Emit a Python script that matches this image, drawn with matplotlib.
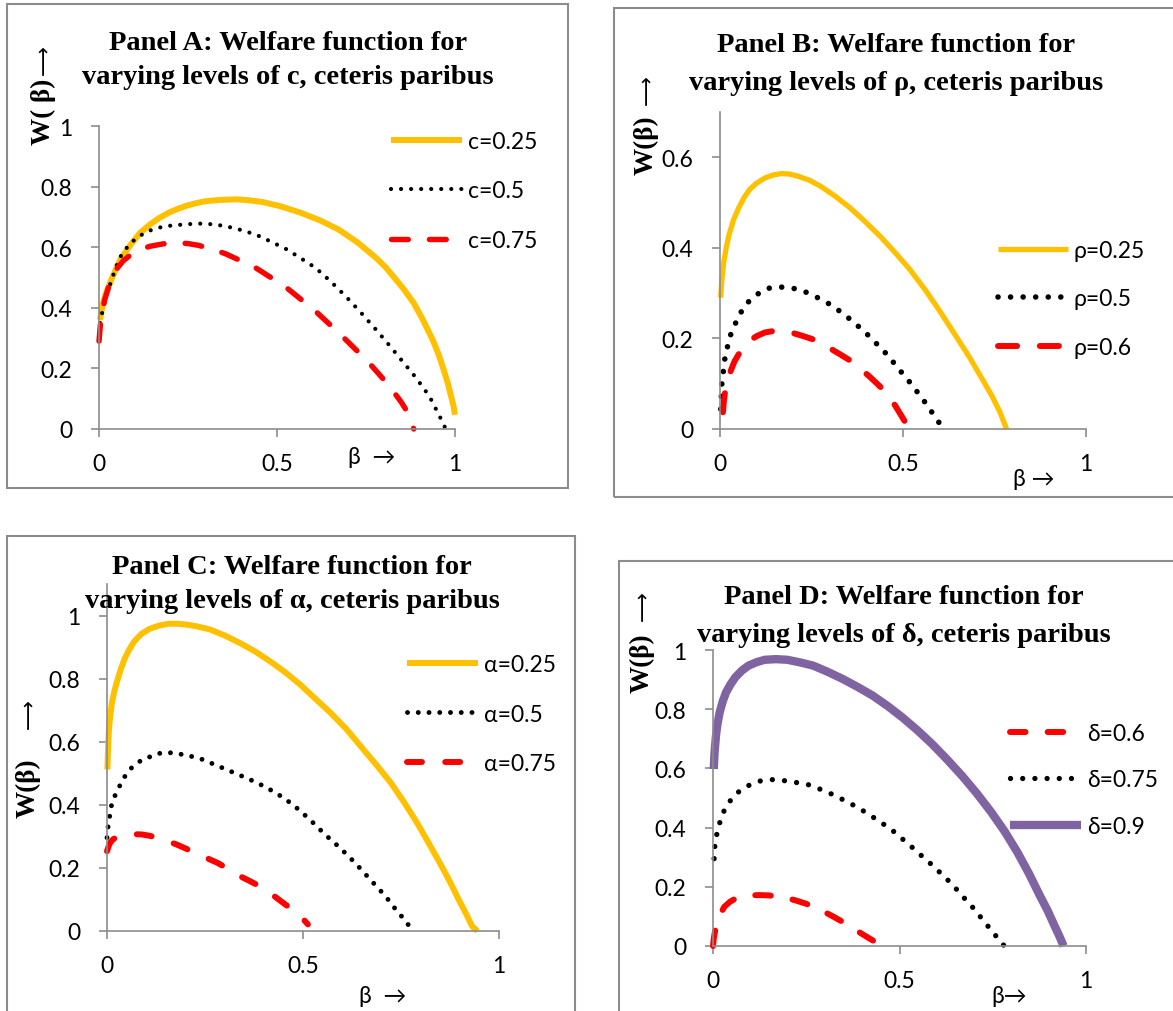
import matplotlib
matplotlib.use("Agg")
import matplotlib.pyplot as plt
from matplotlib.patches import Rectangle

W_PX, H_PX = 1173, 1012

# ---- Panel A: varying c ----
beta_a1 = [0.003, 0.01, 0.02, 0.037, 0.06, 0.09, 0.115, 0.143, 0.17, 0.196, 0.222,
           0.249, 0.275, 0.30, 0.34, 0.386, 0.42, 0.46, 0.51, 0.566, 0.62, 0.672,
           0.725, 0.778, 0.805, 0.83, 0.857, 0.884, 0.91, 0.937, 0.955, 0.968,
           0.98, 0.989, 0.996, 1.0]
w_a1 = [0.36, 0.41, 0.45, 0.50, 0.56, 0.61, 0.647, 0.675, 0.697, 0.714, 0.727,
        0.738, 0.746, 0.752, 0.756, 0.758, 0.755, 0.749, 0.735, 0.714, 0.689, 0.659,
        0.617, 0.565, 0.534, 0.499, 0.46, 0.416, 0.36, 0.295, 0.243, 0.196,
        0.15, 0.108, 0.075, 0.047]
beta_a2 = [0.003, 0.01, 0.02, 0.032, 0.045, 0.058, 0.078, 0.10, 0.125, 0.153, 0.185,
           0.217, 0.25, 0.28, 0.315, 0.354, 0.395, 0.44, 0.48, 0.524, 0.565, 0.608,
           0.65, 0.693, 0.735, 0.778, 0.815, 0.852, 0.885, 0.915, 0.935, 0.952,
           0.964, 0.974]
w_a2 = [0.35, 0.39, 0.44, 0.48, 0.525, 0.565, 0.598, 0.625, 0.645, 0.66, 0.669,
        0.673, 0.676, 0.678, 0.676, 0.67, 0.658, 0.642, 0.62, 0.595, 0.565, 0.532,
        0.488, 0.438, 0.385, 0.328, 0.277, 0.224, 0.177, 0.13, 0.093, 0.053,
        0.025, 0.0]
beta_a3 = [0.0, 0.005, 0.016, 0.03, 0.048, 0.068, 0.09, 0.115, 0.143, 0.18, 0.217,
           0.25, 0.28, 0.315, 0.354, 0.395, 0.44, 0.48, 0.524, 0.565, 0.608, 0.65,
           0.693, 0.73, 0.767, 0.8, 0.83, 0.85, 0.862, 0.874, 0.884]
w_a3 = [0.29, 0.36, 0.427, 0.48, 0.526, 0.555, 0.576, 0.592, 0.603, 0.611, 0.615,
        0.612, 0.606, 0.594, 0.579, 0.557, 0.532, 0.502, 0.469, 0.43, 0.389, 0.343,
        0.295, 0.252, 0.207, 0.163, 0.119, 0.087, 0.064, 0.035, 0.0]
labels_a = ["c=0.25", "c=0.5", "c=0.75"]

# ---- Panel B: varying rho ----
beta_b1 = [0.002, 0.005, 0.01, 0.017, 0.025, 0.037, 0.051, 0.065, 0.081, 0.1, 0.122,
           0.145, 0.168, 0.19, 0.214, 0.245, 0.275, 0.315, 0.356, 0.395, 0.437,
           0.478, 0.519, 0.56, 0.6, 0.64, 0.682, 0.713, 0.743, 0.765, 0.783]
w_b1 = [0.29, 0.33, 0.367, 0.40, 0.43, 0.462, 0.488, 0.51, 0.529, 0.543, 0.554,
        0.561, 0.564, 0.563, 0.558, 0.549, 0.536, 0.514, 0.488, 0.459, 0.426,
        0.39, 0.352, 0.308, 0.261, 0.211, 0.158, 0.115, 0.073, 0.037, 0.0]
beta_b2 = [0.002, 0.005, 0.013, 0.02, 0.028, 0.041, 0.055, 0.074, 0.099, 0.127, 0.158,
           0.188, 0.219, 0.249, 0.277, 0.303, 0.331, 0.356, 0.382, 0.405, 0.427,
           0.451, 0.473, 0.493, 0.514, 0.534, 0.554, 0.573, 0.592, 0.61]
w_b2 = [0.044, 0.099, 0.154, 0.18, 0.206, 0.231, 0.255, 0.278, 0.296, 0.31, 0.314,
        0.312, 0.308, 0.297, 0.286, 0.274, 0.258, 0.242, 0.224, 0.207, 0.189,
        0.169, 0.148, 0.128, 0.108, 0.087, 0.066, 0.044, 0.022, 0.0]
beta_b3 = [0.008, 0.011, 0.015, 0.022, 0.031, 0.04, 0.051, 0.065, 0.081, 0.1, 0.122,
           0.143, 0.163, 0.183, 0.203, 0.228, 0.254, 0.28, 0.305, 0.33, 0.356, 0.38,
           0.407, 0.432, 0.458, 0.48, 0.504]
w_b3 = [0.037, 0.065, 0.088, 0.112, 0.132, 0.15, 0.165, 0.181, 0.195, 0.205, 0.213,
        0.216, 0.217, 0.215, 0.211, 0.205, 0.198, 0.188, 0.176, 0.164, 0.151, 0.135,
        0.117, 0.098, 0.077, 0.05, 0.018]
labels_b = ["ρ=0.25", "ρ=0.5", "ρ=0.6"]

# ---- Panel C: varying alpha ----
beta_c1 = [0.001, 0.003, 0.005, 0.008, 0.0125, 0.019, 0.027, 0.036, 0.046, 0.057,
           0.07, 0.088, 0.109, 0.132, 0.157, 0.18, 0.205, 0.232, 0.2625, 0.3, 0.339,
           0.378, 0.416, 0.455, 0.493, 0.53, 0.57, 0.61, 0.647, 0.685, 0.724, 0.758,
           0.791, 0.82, 0.849, 0.874, 0.897, 0.915, 0.931, 0.945]
w_c1 = [0.512, 0.59, 0.639, 0.68, 0.723, 0.762, 0.797, 0.833, 0.866, 0.893,
        0.919, 0.942, 0.958, 0.968, 0.974, 0.974, 0.971, 0.965, 0.956, 0.937, 0.913,
        0.886, 0.855, 0.82, 0.781, 0.738, 0.692, 0.641, 0.586, 0.53, 0.47, 0.408,
        0.343, 0.28, 0.216, 0.158, 0.1, 0.057, 0.016, 0.0]
beta_c2 = [0.0, 0.003, 0.011, 0.02, 0.032, 0.046, 0.0625, 0.085, 0.109, 0.133,
           0.1615, 0.19, 0.214, 0.243, 0.287, 0.335, 0.383, 0.431, 0.474, 0.517, 0.556,
           0.594, 0.633, 0.671, 0.71, 0.743, 0.76, 0.777]
w_c2 = [0.296, 0.333, 0.396, 0.428, 0.459, 0.491, 0.517, 0.539, 0.552, 0.563,
        0.565, 0.56, 0.554, 0.544, 0.521, 0.496, 0.47, 0.438, 0.401, 0.354, 0.306,
        0.264, 0.216, 0.164, 0.111, 0.058, 0.035, 0.005]
beta_c3 = [0.0, 0.004, 0.008, 0.015, 0.022, 0.035, 0.051, 0.07, 0.089, 0.108, 0.128,
           0.152, 0.176, 0.2, 0.224, 0.253, 0.282, 0.31, 0.339, 0.368, 0.397, 0.426,
           0.455, 0.475, 0.493, 0.5125]
w_c3 = [0.253, 0.268, 0.28, 0.29, 0.296, 0.302, 0.306, 0.307, 0.306, 0.302, 0.296,
        0.286, 0.275, 0.262, 0.248, 0.232, 0.216, 0.196, 0.174, 0.156, 0.137, 0.111,
        0.084, 0.066, 0.048, 0.021]
labels_c = ["α=0.25", "α=0.5", "α=0.75"]

# ---- Panel D: varying delta ----
beta_d1 = [0.0, 0.002, 0.005, 0.01, 0.015, 0.022, 0.03, 0.045, 0.06, 0.08, 0.1,
           0.125, 0.149, 0.174, 0.199, 0.224, 0.249, 0.274, 0.299, 0.323, 0.348,
           0.373, 0.398, 0.428, 0.457]
w_d1 = [0.0, 0.025, 0.047, 0.072, 0.092, 0.113, 0.132, 0.149, 0.16, 0.167, 0.171,
        0.172, 0.171, 0.167, 0.162, 0.153, 0.143, 0.13, 0.115, 0.099, 0.081,
        0.062, 0.042, 0.019, 0.0]
beta_d2 = [0.003, 0.005, 0.01, 0.018, 0.03, 0.047, 0.068, 0.095, 0.124, 0.159,
           0.189, 0.219, 0.249, 0.279, 0.306, 0.333, 0.36, 0.388, 0.414, 0.441, 0.468,
           0.493, 0.517, 0.542, 0.565, 0.589, 0.612, 0.635, 0.657, 0.679, 0.701,
           0.721, 0.741, 0.761, 0.781]
w_d2 = [0.295, 0.34, 0.376, 0.416, 0.458, 0.492, 0.52, 0.542, 0.557, 0.562,
        0.559, 0.553, 0.548, 0.534, 0.52, 0.505, 0.486, 0.469, 0.447, 0.426, 0.402,
        0.379, 0.351, 0.325, 0.298, 0.272, 0.244, 0.216, 0.186, 0.154, 0.124,
        0.092, 0.061, 0.03, 0.0]
beta_d3 = [0.002, 0.004, 0.008, 0.012, 0.018, 0.026, 0.035, 0.047, 0.06, 0.077,
           0.095, 0.117, 0.139, 0.169, 0.199, 0.234, 0.269, 0.308, 0.348, 0.388,
           0.428, 0.468, 0.507, 0.547, 0.587, 0.627, 0.667, 0.707, 0.746, 0.782,
           0.816, 0.847, 0.876, 0.897, 0.915, 0.928, 0.94]
w_d3 = [0.598, 0.65, 0.711, 0.75, 0.79, 0.826, 0.857, 0.884, 0.908, 0.93,
        0.947, 0.959, 0.967, 0.969, 0.967, 0.958, 0.947, 0.926, 0.902, 0.875,
        0.846, 0.811, 0.773, 0.73, 0.683, 0.631, 0.576, 0.516, 0.452, 0.387,
        0.317, 0.245, 0.171, 0.12, 0.07, 0.035, 0.0]
labels_d = ["δ=0.6", "δ=0.75", "δ=0.9"]

x_ticks = [0, 0.5, 1]
x_ticklabels = ["0", "0.5", "1"]
y_ticks_1 = [0, 0.2, 0.4, 0.6, 0.8, 1]
y_ticklabels_1 = ["0", "0.2", "0.4", "0.6", "0.8", "1"]
y_ticks_b = [0, 0.2, 0.4, 0.6]
y_ticklabels_b = ["0", "0.2", "0.4", "0.6"]

GOLD = "#FFC000"
RED = "#FF0000"
PURPLE = "#8064A2"
GREY = "#8C8C8C"
SERIF = ["Liberation Serif", "DejaVu Serif"]
SANS = ["Lato", "DejaVu Sans"]
FS = 16.5

fig = plt.figure(figsize=(W_PX / 100, H_PX / 100), dpi=100)


def fx(x):
    return x / W_PX


def fy(y):
    return 1 - y / H_PX


def panel_box(x0, y0, x1, y1):
    fig.add_artist(Rectangle((fx(x0), fy(y1)), (x1 - x0) / W_PX, (y1 - y0) / H_PX,
                             transform=fig.transFigure, fill=False,
                             edgecolor=GREY, lw=1.5, zorder=0))


def make_axes(x0, x1, y_top, y_bot, ymax, yticks, yticklabels):
    ax = fig.add_axes([fx(x0), fy(y_bot), (x1 - x0) / W_PX, (y_bot - y_top) / H_PX])
    ax.set_xlim(0, 1)
    ax.set_ylim(0, ymax)
    ax.patch.set_alpha(0)
    for s in ["top", "right"]:
        ax.spines[s].set_visible(False)
    for s in ["left", "bottom"]:
        ax.spines[s].set_color(GREY)
        ax.spines[s].set_linewidth(1.2)
    ax.set_xticks(x_ticks)
    ax.set_xticklabels(x_ticklabels)
    ax.set_yticks(yticks)
    ax.set_yticklabels(yticklabels)
    ax.tick_params(direction="out", length=6, width=1.2, color=GREY,
                   labelsize=FS, labelcolor="black")
    ax.tick_params(axis="y", pad=13)
    ax.tick_params(axis="x", pad=11)
    for lab in ax.get_xticklabels() + ax.get_yticklabels():
        lab.set_family(SANS)
    return ax


def titles(xc, y1, y2, lines):
    fig.text(fx(xc), fy(y1), "Panel " + lines[0], ha="center", va="center",
             family=SERIF, weight="bold", fontsize=20.5)
    fig.text(fx(xc), fy(y2), lines[1], ha="center", va="center",
             family=SERIF, weight="bold", fontsize=20.5)


def ylabel(x, y_w, y_arrow, txt):
    # W(beta) in bold serif, the long thin arrow as its own text above it
    fig.text(fx(x), fy(y_w), txt, rotation=90, ha="center", va="center",
             family=SERIF, weight="bold", fontsize=19.5)
    fig.text(fx(x + 1), fy(y_arrow), "⟶", rotation=90, ha="center", va="center",
             family=["DejaVu Sans"], fontsize=15)


def legend(ax, x, y, spacing, hl=3.1):
    ax.legend(loc="center left", bbox_to_anchor=(fx(x), fy(y)),
              bbox_transform=fig.transFigure, frameon=False, borderpad=0,
              borderaxespad=0, handlelength=hl, handletextpad=0.25,
              labelspacing=spacing, prop={"family": SANS, "size": FS})


# ---------- Panel A ----------
panel_box(7, 5, 568, 489)
ax = make_axes(99, 455, 127, 430, 1.0, y_ticks_1, y_ticklabels_1)
ax.plot(beta_a1, w_a1, color=GOLD, lw=4.3, solid_capstyle="butt", clip_on=False,
        label=labels_a[0])
ax.plot(beta_a2, w_a2, color="black", lw=3.0, linestyle=(0, (0.01, 2.4)),
        dash_capstyle="round", clip_on=False, label=labels_a[1])
ax.plot(beta_a3, w_a3, color=RED, lw=3.9, linestyle=(0, (3.1, 3.9)),
        dash_capstyle="round", clip_on=False, label=labels_a[2])
legend(ax, 391, 192, 1.23)
titles(288, 43, 77, ("A: Welfare function for",
                     "varying levels of c, ceteris paribus"))
ylabel(43, 112, 60, "W( β)")
fig.text(fx(372), fy(458), "β  →", ha="center", va="center", family=SANS,
         fontsize=FS)

# ---------- Panel B ----------
panel_box(614, 9, 1185, 498)
ax = make_axes(720, 1086, 113, 430, 0.7, y_ticks_b, y_ticklabels_b)
ax.plot(beta_b1, w_b1, color=GOLD, lw=3.8, solid_capstyle="butt", clip_on=False,
        label=labels_b[0])
ax.plot(beta_b2, w_b2, color="black", lw=4.0, linestyle=(0, (0.01, 2.25)),
        dash_capstyle="round", clip_on=False, label=labels_b[1])
ax.plot(beta_b3, w_b3, color=RED, lw=4.3, linestyle=(0, (3.2, 3.8)),
        dash_capstyle="round", clip_on=False, label=labels_b[2])
legend(ax, 998, 300, 1.2, hl=3.05)
titles(896, 45, 83, ("B: Welfare function for",
                     "varying levels of ρ, ceteris paribus"))
ylabel(646, 145, 90, "W(β)")
fig.text(fx(1034), fy(480), "β →", ha="center", va="center", family=SANS,
         fontsize=FS)

# ---------- Panel C ----------
panel_box(7, 537, 575, 1025)
ax = make_axes(107, 499, 585, 932, 1.1, y_ticks_1, y_ticklabels_1)
ax.plot(beta_c1, w_c1, color=GOLD, lw=4.3, solid_capstyle="butt", clip_on=False,
        label=labels_c[0])
ax.plot(beta_c2, w_c2, color="black", lw=3.5, linestyle=(0, (0.01, 2.2)),
        dash_capstyle="round", clip_on=False, label=labels_c[1])
ax.plot(beta_c3, w_c3, color=RED, lw=4.3, linestyle=(0, (2.5, 3.9)),
        dash_capstyle="round", clip_on=False, label=labels_c[2])
legend(ax, 407, 715, 1.25)
titles(292, 567, 602, ("C: Welfare function for",
                       "varying levels of α, ceteris paribus"))
ylabel(28, 788, 714, "W(β)")
fig.text(fx(383), fy(997), "β  →", ha="center", va="center", family=SANS,
         fontsize=FS)

# ---------- Panel D ----------
panel_box(619, 562, 1185, 1025)
ax = make_axes(713, 1086, 651, 947, 1.0, y_ticks_1, y_ticklabels_1)
ax.plot(beta_d1, w_d1, color=RED, lw=4.3, linestyle=(0, (2.6, 3.7)),
        dash_capstyle="round", clip_on=False, label=labels_d[0])
ax.plot(beta_d2, w_d2, color="black", lw=3.8, linestyle=(0, (0.01, 2.3)),
        dash_capstyle="round", clip_on=False, label=labels_d[1])
ax.plot(beta_d3, w_d3, color=PURPLE, lw=6.0, solid_capstyle="butt", clip_on=False,
        label=labels_d[2])
legend(ax, 1010, 781, 1.13, hl=3.1)
titles(904, 598, 636, ("D: Welfare function for",
                       "varying levels of δ, ceteris paribus"))
ylabel(642, 663, 606, "W(β)")
fig.text(fx(1009), fy(997), "β→", ha="center", va="center", family=SANS,
         fontsize=FS)

fig.savefig("out.png", dpi=100)
